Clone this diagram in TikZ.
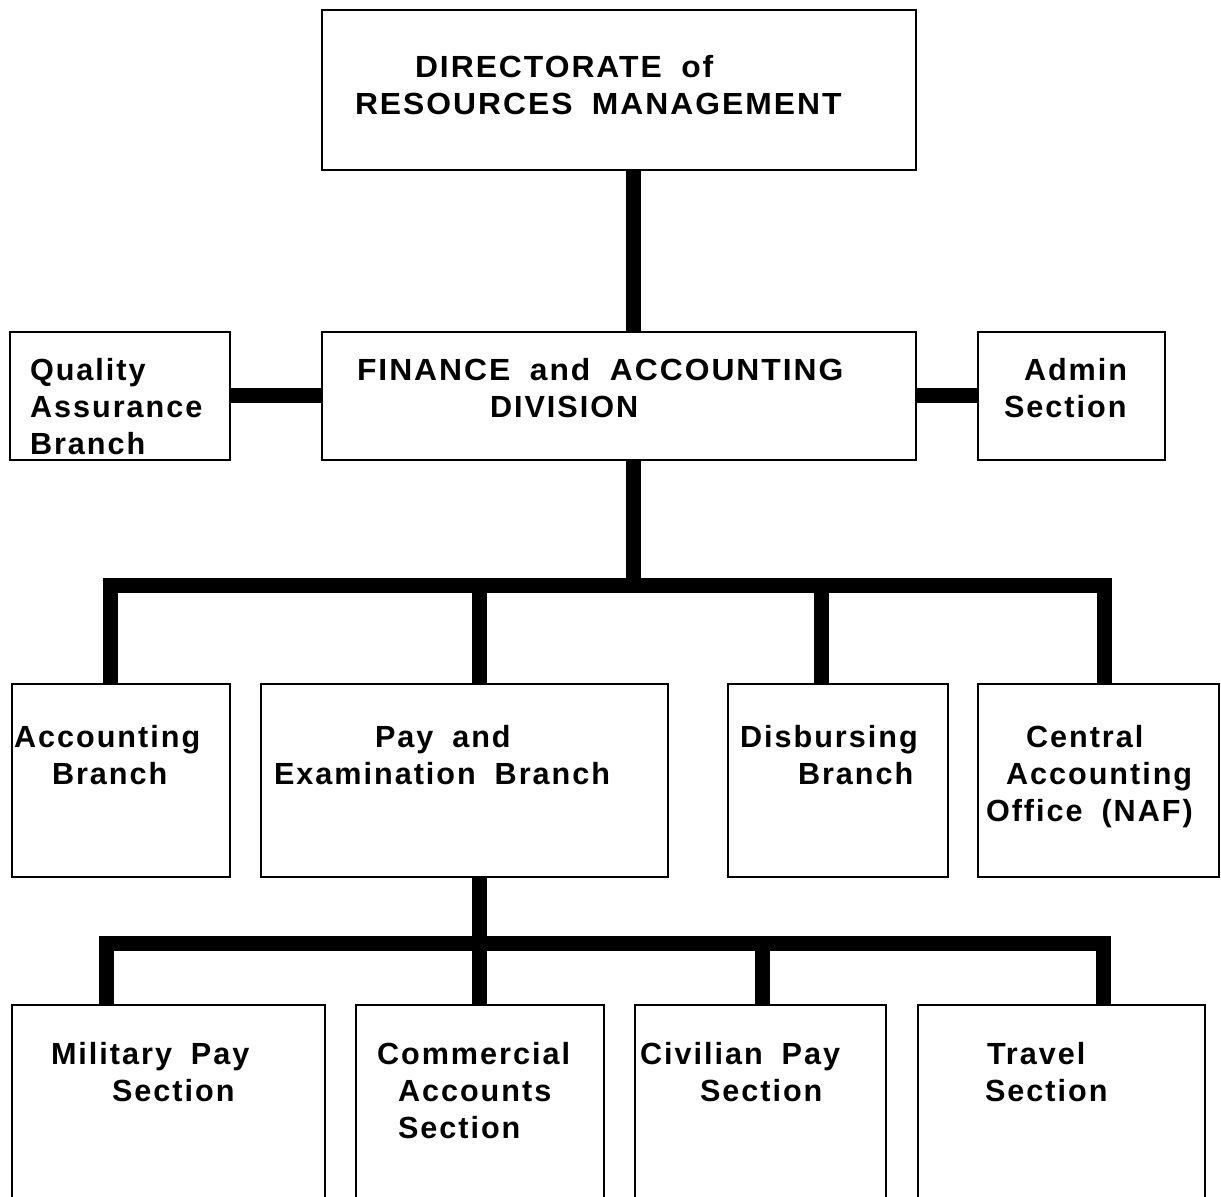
\documentclass[tikz,border=0pt]{standalone}
\usepackage{fontspec}
\setmainfont{Liberation Sans}[LetterSpace=6.5,WordSpace=1.8]
\newcommand{\widecaps}[1]{{\addfontfeature{FakeStretch=1.04}#1}}
\begin{document}
\newcommand{\orgbox}[5]{%
  \node[box, anchor=north west, minimum width=#4*0.5pt, minimum height=#5*0.5pt] (#1) at (#2,#3) {};}
\begin{tikzpicture}[x=0.5pt, y=-0.5pt,
  box/.style={draw, line width=1pt, inner sep=0pt, outer sep=0pt, rectangle},
  % a label is placed by the baseline of its last line
  lbl/.style={inner sep=0pt, outer sep=0pt, align=left, text height=0pt, anchor=north west,
              font=\bfseries\fontsize{15.3}{18.5}\selectfont},
  conn/.style={line width=7.5pt, line join=miter, line cap=butt}]
\useasboundingbox (0,0) rectangle (1221,1197);
\clip (0,0) rectangle (1221,1197);

% boxes: name, left, top, width, height
\orgbox{dir}{322}{10}{594}{160}
\orgbox{fin}{322}{332}{594}{128}
\orgbox{qa}{10}{332}{220}{128}
\orgbox{adm}{978}{332}{187}{128}
\orgbox{acc}{12}{684}{218}{193}
\orgbox{pay}{261}{684}{407}{193}
\orgbox{dis}{728}{684}{220}{193}
\orgbox{cao}{978}{684}{241}{193}
\orgbox{mil}{12}{1005}{313}{240}
\orgbox{com}{356}{1005}{248}{240}
\orgbox{civ}{635}{1005}{251}{240}
\orgbox{trv}{918}{1005}{287}{240}

% labels
\node[lbl] (dir-t) at (355,114) {\hspace*{30pt}\widecaps{DIRECTORATE of}\\\widecaps{RESOURCES MANAGEMENT}};
\node[lbl] (fin-t) at (357,417) {\widecaps{FINANCE and ACCOUNTING}\\\hspace*{66.5pt}DIVISION};
\node[lbl] (qa-t) at (30,454) {Quality\\Assurance\\Branch};
\node[lbl] (adm-t) at (1004,417) {\hspace*{10pt}Admin\\Section};
\node[lbl] (acc-t) at (14,784) {Accounting\\\hspace*{19pt}Branch};
\node[lbl] (pay-t) at (274,784) {\hspace*{50.5pt}Pay and\\Examination Branch};
\node[lbl] (dis-t) at (740,784) {Disbursing\\\hspace*{29pt}Branch};
\node[lbl] (cao-t) at (986,821) {\hspace*{20pt}Central\\\hspace*{10pt}Accounting\\Office (NAF)};
\node[lbl] (mil-t) at (51,1101) {Military Pay\\\hspace*{30.5pt}Section};
\node[lbl] (com-t) at (377,1138) {Commercial\\\hspace*{10.5pt}Accounts\\\hspace*{10.5pt}Section};
\node[lbl] (civ-t) at (640,1101) {Civilian Pay\\\hspace*{30pt}Section};
\node[lbl] (trv-t) at (985,1101) {\hspace*{1pt}Travel\\Section};

% connector positions
\coordinate (trunk) at (633,0);
\coordinate (bus1) at (0,586);
\coordinate (bus2) at (0,943);
\coordinate (a1) at (110,0);
\coordinate (a2) at (479,0);
\coordinate (a3) at (821,0);
\coordinate (a4) at (1104,0);
\coordinate (b1) at (106,0);
\coordinate (b3) at (762,0);
\coordinate (b4) at (1103,0);

% top level
\draw[conn] (dir.south -| trunk) -- (fin.north -| trunk);
\draw[conn] (qa.east |- 0,396) -- (fin.west |- 0,396);
\draw[conn] (fin.east |- 0,396) -- (adm.west |- 0,396);

% branches
\draw[conn] (fin.south -| trunk) -- (trunk |- bus1);
\draw[conn] (acc.north -| a1) |- (bus1 -| a4) -- (cao.north -| a4);
\draw[conn] (a2 |- bus1) -- (pay.north -| a2);
\draw[conn] (a3 |- bus1) -- (dis.north -| a3);

% sections
\draw[conn] (pay.south -| a2) -- (com.north -| a2);
\draw[conn] (mil.north -| b1) |- (bus2 -| b4) -- (trv.north -| b4);
\draw[conn] (b3 |- bus2) -- (civ.north -| b3);
\end{tikzpicture}
\end{document}
